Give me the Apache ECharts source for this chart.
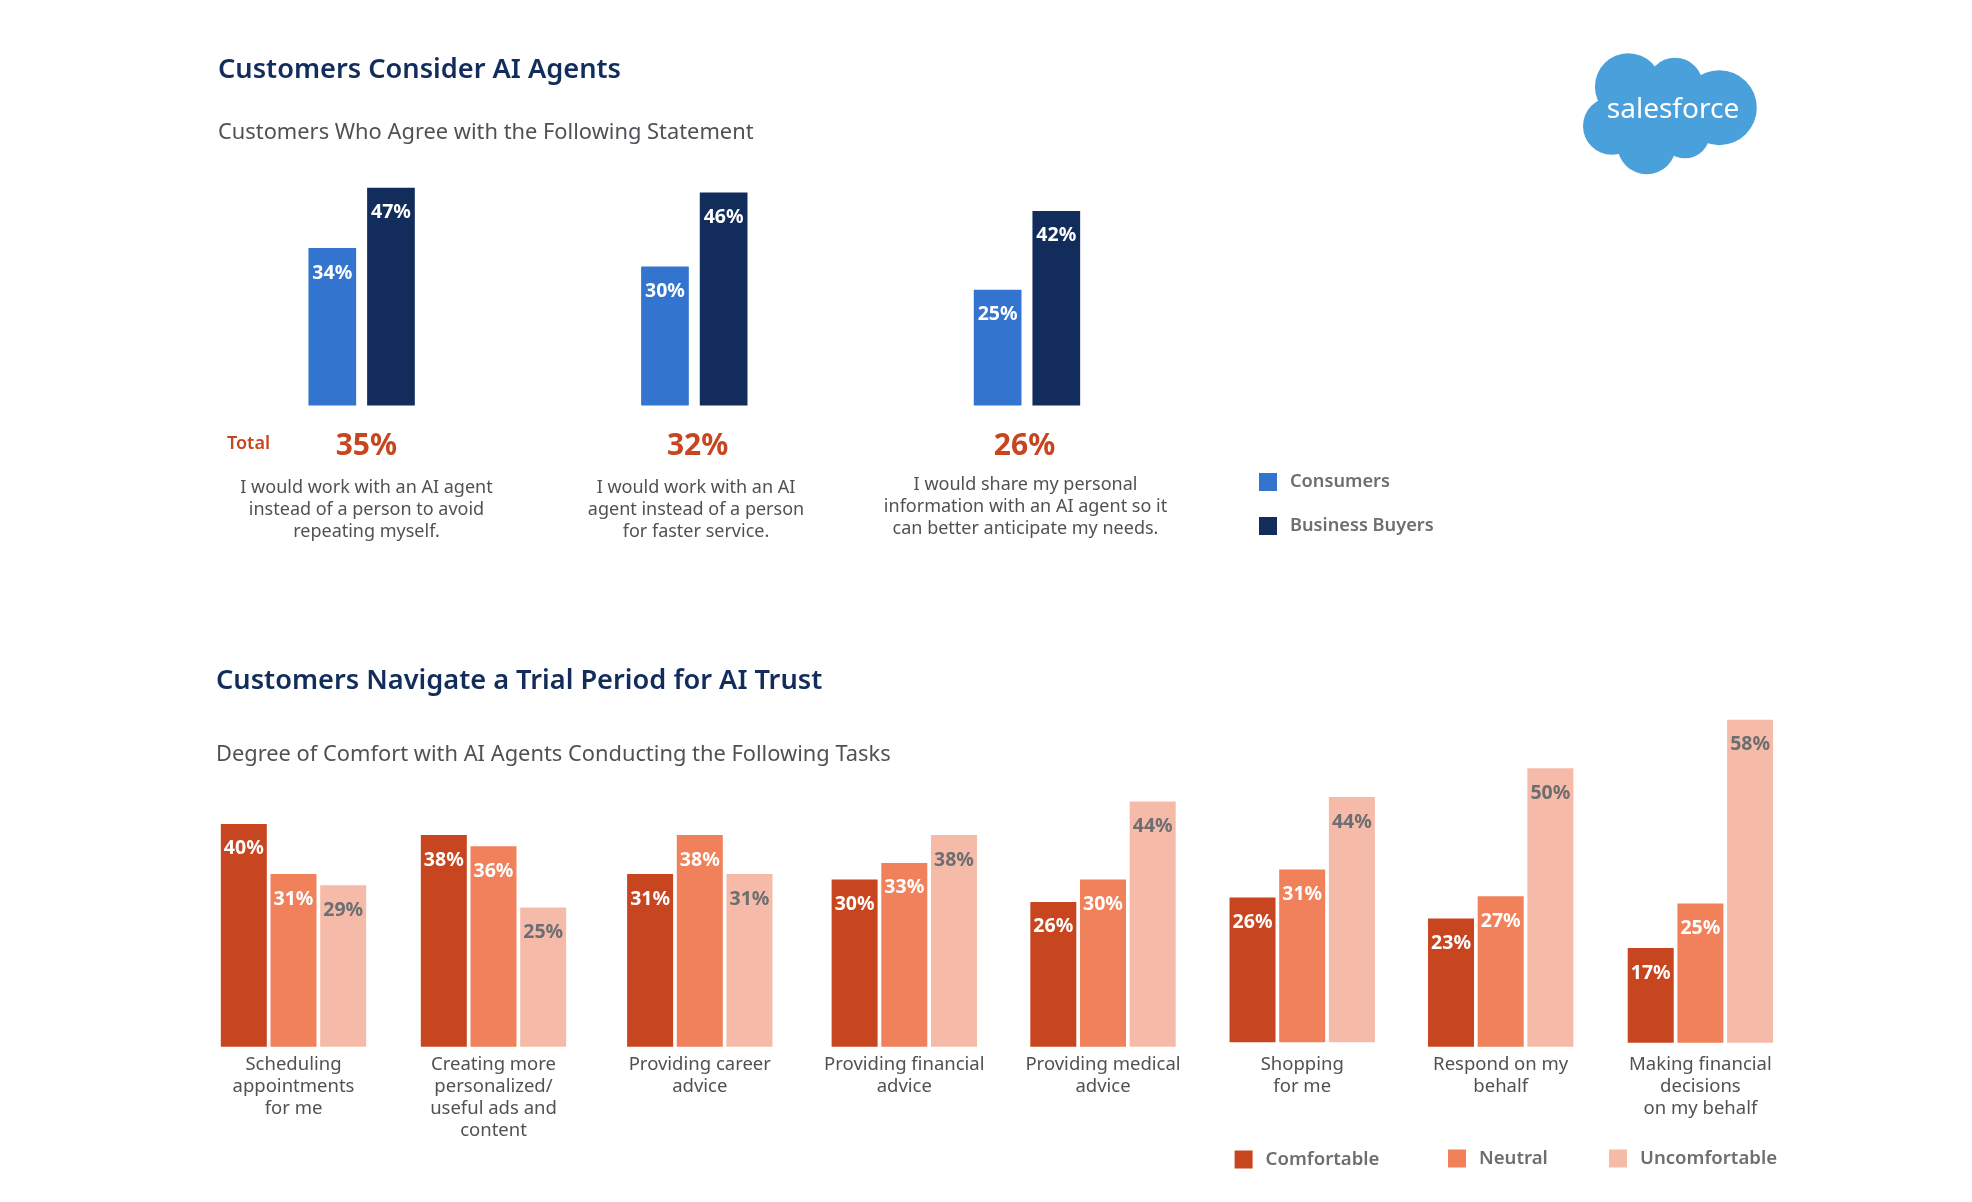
<!DOCTYPE html>
<html>
<head>
<meta charset="utf-8">
<script src="https://cdn.jsdelivr.net/npm/echarts@6/dist/echarts.min.js"></script>
<style>
  html, body { margin: 0; background: #fff; }
  #chart { width: 1972px; height: 1202px; }
</style>
</head>
<body>
<div id="chart"></div>
<script>
// data
var statements = [
  'I would work with an AI agent\ninstead of a person to avoid\nrepeating myself.',
  'I would work with an AI\nagent instead of a person\nfor faster service.',
  'I would share my personal\ninformation with an AI agent so it\ncan better anticipate my needs.'
];
var consumers = [34, 30, 25];
var businessBuyers = [47, 46, 42];
var totals = [35, 32, 26];

var tasks = [
  'Scheduling\nappointments\nfor me',
  'Creating more\npersonalized/\nuseful ads and\ncontent',
  'Providing career\nadvice',
  'Providing financial\nadvice',
  'Providing medical\nadvice',
  'Shopping\nfor me',
  'Respond on my\nbehalf',
  'Making financial\ndecisions\non my behalf'
];
var comfortable = [40, 38, 31, 30, 26, 26, 23, 17];
var neutral = [31, 36, 38, 33, 30, 31, 27, 25];
var uncomfortable = [29, 25, 31, 38, 44, 44, 50, 58];

// layout, the groups of the lower chart are not evenly spaced in the picture
var groupCenters = [293.5, 493.5, 699.8, 904.3, 1103, 1302.2, 1500.7, 1700.4];
var groupBaselines = [1046.7, 1046.7, 1046.7, 1046.7, 1046.7, 1042.2, 1046.7, 1042.7];
var statementCenters = [366.5, 696, 1025.5];
var statementTops = [476.5, 476.5, 473.5];
var totalCenters = [366.4, 697.6, 1024.5];
var lowerLegendLefts = [1234.6, 1448, 1609];
var lowerLegendTops = [1150, 1149, 1149];

var FONT = '"Noto Sans", sans-serif';
var NAVY = '#122d5c';
var RED = '#c7451f';
var GREY = '#4f5154';
var LEGEND_GREY = '#6d6e71';

var chart = echarts.init(document.getElementById('chart'));

function pct(p) { return p.value + '%'; }

function barLabel(color) {
  return {
    show: true,
    position: 'insideTop',
    distance: 15,
    formatter: pct,
    color: color,
    fontFamily: FONT,
    fontWeight: 700,
    fontSize: 19.5
  };
}

function hiddenValueAxis(gridIndex, max) {
  return { type: 'value', gridIndex: gridIndex, min: 0, max: max, show: false };
}

var grids = [{ left: 195.3, width: 998, top: 173.85, height: 231.75 }];
var xAxes = [{
  type: 'category',
  gridIndex: 0,
  data: statements,
  axisLine: { show: false },
  axisTick: { show: false },
  axisLabel: { show: false }
}];
var yAxes = [hiddenValueAxis(0, 50)];

var series = [
  {
    name: 'Consumers', type: 'bar', xAxisIndex: 0, yAxisIndex: 0, data: consumers,
    barWidth: 47.7, barGap: '23%', itemStyle: { color: '#3274ce' }, label: barLabel('#fff')
  },
  {
    name: 'Business Buyers', type: 'bar', xAxisIndex: 0, yAxisIndex: 0, data: businessBuyers,
    barWidth: 47.7, barGap: '23%', itemStyle: { color: NAVY }, label: barLabel('#fff')
  }
];

// one small grid per task in the lower chart
tasks.forEach(function (task, i) {
  var idx = i + 1;
  grids.push({ left: groupCenters[i] - 75, width: 150, top: groupBaselines[i] - 334.2, height: 334.2 });
  xAxes.push({
    type: 'category',
    gridIndex: idx,
    data: [task],
    axisLine: { show: false },
    axisTick: { show: false },
    axisLabel: {
      interval: 0,
      margin: 7 + 1046.7 - groupBaselines[i],
      color: GREY,
      fontFamily: FONT,
      fontSize: 18.5,
      lineHeight: 22
    }
  });
  yAxes.push(hiddenValueAxis(idx, 60));
  [
    ['Comfortable', comfortable, '#c7451f', '#fff'],
    ['Neutral', neutral, '#f0815a', '#fff'],
    ['Uncomfortable', uncomfortable, '#f5bba8', '#6d6e71']
  ].forEach(function (s) {
    series.push({
      name: s[0], type: 'bar', xAxisIndex: idx, yAxisIndex: idx, data: [s[1][i]],
      barWidth: 46, barGap: '8%', itemStyle: { color: s[2] }, label: barLabel(s[3])
    });
  });
});

function headline(text, left, top) {
  return { text: text, left: left, top: top, padding: 0, textStyle: { color: NAVY, fontFamily: FONT, fontWeight: 600, fontSize: 27.2 } };
}
function subhead(text, left, top) {
  return { text: text, left: left, top: top, padding: 0, textStyle: { color: GREY, fontFamily: FONT, fontWeight: 400, fontSize: 21.85 } };
}
function legendStyle(size) {
  return { color: LEGEND_GREY, fontFamily: FONT, fontWeight: 600, fontSize: size, padding: [3, 0, 0, 8] };
}

// statements, totals and logo
var graphics = [];
statements.forEach(function (text, i) {
  graphics.push({
    type: 'text', x: statementCenters[i], y: statementTops[i],
    style: { text: text, align: 'center', fill: GREY, font: '18px ' + FONT, lineHeight: 22 }
  });
  graphics.push({
    type: 'text', x: totalCenters[i], y: 446,
    style: { text: totals[i] + '%', align: 'center', verticalAlign: 'middle', fill: RED, font: '700 30px ' + FONT }
  });
});
graphics.push({
  type: 'text', x: 227, y: 444,
  style: { text: 'Total', verticalAlign: 'middle', fill: RED, font: '600 18px ' + FONT }
});

var cloud = [[1628.3, 86.7, 33.4], [1675, 85.7, 28], [1719.3, 107.7, 37.5], [1611.7, 126, 28.7], [1646.7, 145, 29.3], [1685, 133.3, 25], [1670, 110, 40]];
cloud.forEach(function (c) {
  graphics.push({ type: 'circle', shape: { cx: c[0], cy: c[1], r: c[2] }, style: { fill: '#4aa0db' } });
});
graphics.push({
  type: 'text', x: 1673, y: 110.5,
  style: { text: 'salesforce', align: 'center', verticalAlign: 'middle', fill: '#fff', font: '400 28px ' + FONT }
});

var legends = [{
  data: ['Consumers', 'Business Buyers'],
  orient: 'vertical',
  icon: 'rect',
  left: 1259,
  top: 473,
  padding: 0,
  itemWidth: 18,
  itemHeight: 18,
  itemGap: 26,
  textStyle: legendStyle(18.2)
}];
['Comfortable', 'Neutral', 'Uncomfortable'].forEach(function (name, i) {
  legends.push({
    data: [name],
    icon: 'rect',
    left: lowerLegendLefts[i],
    top: lowerLegendTops[i],
    padding: 0,
    itemWidth: 18,
    itemHeight: 18,
    textStyle: legendStyle(18.6)
  });
});

chart.setOption({
  backgroundColor: '#fff',
  animation: false,
  title: [
    headline('Customers Consider AI Agents', 218, 56.5),
    subhead('Customers Who Agree with the Following Statement', 218, 122),
    headline('Customers Navigate a Trial Period for AI Trust', 216, 668),
    subhead('Degree of Comfort with AI Agents Conducting the Following Tasks', 216, 744)
  ],
  legend: legends,
  grid: grids,
  xAxis: xAxes,
  yAxis: yAxes,
  series: series,
  graphic: graphics
});
</script>
</body>
</html>
